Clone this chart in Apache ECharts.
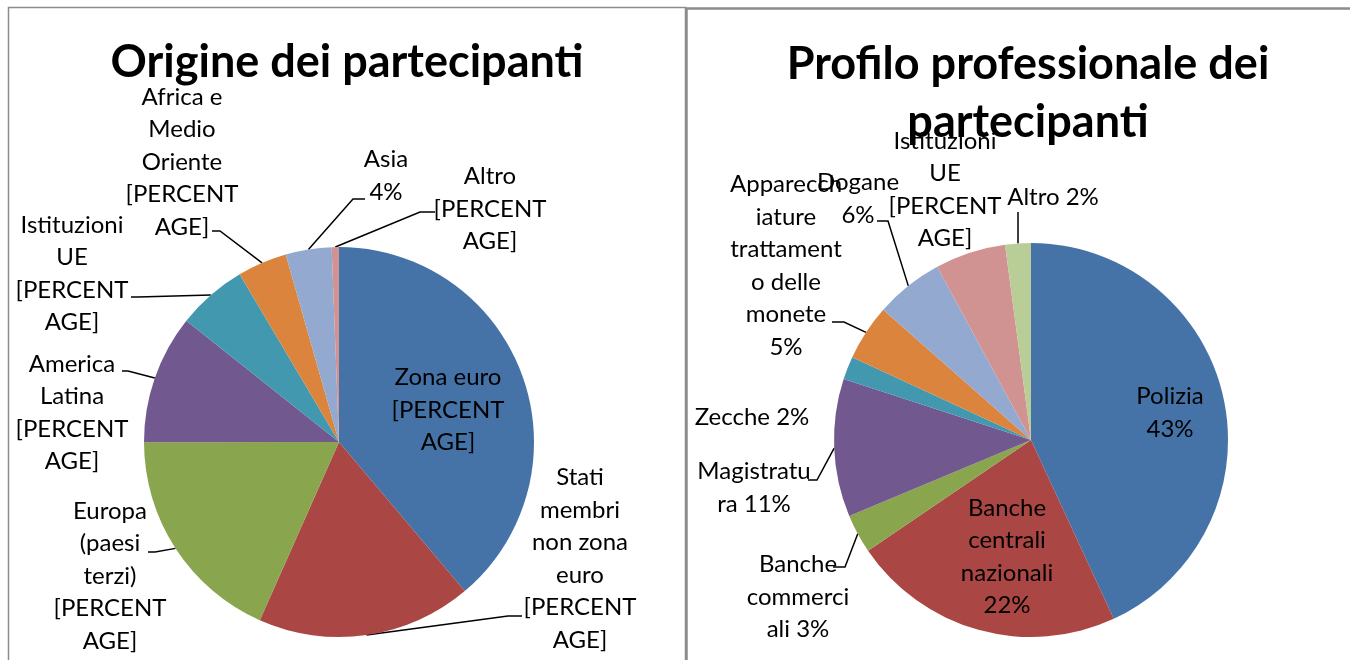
<!DOCTYPE html>
<html>
<head>
<meta charset="utf-8">
<script src="https://cdn.jsdelivr.net/npm/echarts@6/dist/echarts.min.js"></script>
<style>
  html, body { margin: 0; padding: 0; background: #fff; }
  #chart { width: 1350px; height: 660px; }
</style>
</head>
<body>
<div id="chart"></div>
<script>
// Origine dei partecipanti
var leftNames = ['Zona euro', 'Stati membri non zona euro', 'Europa (paesi terzi)', 'America Latina',
    'Istituzioni UE', 'Africa e Medio Oriente', 'Asia', 'Altro'];
var leftValues = [38.8, 17.8, 18.3, 10.7, 5.8, 4.1, 3.8, 0.6];
var leftLabels = ['Zona euro\n[PERCENT\nAGE]', 'Stati\nmembri\nnon zona\neuro\n[PERCENT\nAGE]',
    'Europa\n(paesi\nterzi)\n[PERCENT\nAGE]', 'America\nLatina\n[PERCENT\nAGE]',
    'Istituzioni\nUE\n[PERCENT\nAGE]', 'Africa e\nMedio\nOriente\n[PERCENT\nAGE]',
    'Asia\n{d}%', 'Altro\n[PERCENT\nAGE]'];

// Profilo professionale dei partecipanti
var rightNames = ['Polizia', 'Banche centrali nazionali', 'Banche commerciali', 'Magistratura', 'Zecche',
    'Apparecchiature trattamento delle monete', 'Dogane', 'Istituzioni UE', 'Altro'];
var rightValues = [43.1, 22.4, 3.2, 11.3, 1.9, 4.6, 5.6, 5.8, 2.1];
var rightLabels = ['Polizia\n{d}%', 'Banche\ncentrali\nnazionali\n{d}%', 'Banche\ncommerci\nali {d}%',
    'Magistratu\nra {d}%', 'Zecche {d}%', 'Apparecch\niature\ntrattament\no delle\nmonete\n{d}%',
    'Dogane\n{d}%', 'Istituzioni\nUE\n[PERCENT\nAGE]', 'Altro {d}%'];

var colors = ['#4673A7', '#AA4644', '#89A54E', '#71588F', '#4198AF', '#DB843D', '#93A9CF', '#D19392', '#B9CD96'];

// label placement (centre of the text block) and leader: [attachX, attachY, elbowX, elbowY]
var leftLabelPos = [[448, 410], [580, 559], [110, 576], [72, 413], [72, 274], [182, 162], [386, 176], [490, 209]];
var leftLeaders = [null, [522, 616, 508, 616], [148, 552, 155, 552], [122, 371, 128, 371],
    [131, 297, 138, 297], [212, 231, 220, 231], [365, 199, 353, 199], [435, 212, 420, 212]];
var rightLabelPos = [[1170, 413], [1007, 557], [798, 597], [754, 488], [752, 417], [786, 266],
    [858, 199], [945, 190], [1053, 197]];
var rightLeaders = [null, null, [833, 567, 845, 567], [808, 480, 817, 480], null, [832, 322, 844, 322],
    [877, 221, 888, 221], null, [1018, 212, 1018, 213]];

var font = 'Lato';

function buildData(names, values, labels, leaders) {
    return names.map(function (n, i) {
        return {
            name: n,
            value: values[i],
            itemStyle: { color: colors[i] },
            label: { formatter: labels[i] },
            labelLine: { show: !!leaders[i] }
        };
    });
}

function makeLayout(pos, leaders) {
    return function (p) {
        var i = p.dataIndex;
        var out = { x: pos[i][0], y: pos[i][1], align: 'center', verticalAlign: 'middle' };
        var l = leaders[i];
        if (l && p.labelLinePoints) {
            out.labelLinePoints = [p.labelLinePoints[0], [l[2], l[3]], [l[0], l[1]]];
        }
        return out;
    };
}

var myChart = echarts.init(document.getElementById('chart'), null, { renderer: 'canvas' });

var pieBase = {
    type: 'pie',
    startAngle: 90,
    clockwise: true,
    avoidLabelOverlap: false,
    percentPrecision: 0,
    label: {
        show: true,
        position: 'outside',
        color: '#000',
        fontFamily: font,
        fontSize: 24,
        lineHeight: 32.5,
        align: 'center'
    },
    labelLine: {
        show: true,
        length: 10,
        length2: 10,
        lineStyle: { color: '#000', width: 1.5 }
    },
    itemStyle: { borderWidth: 0 },
    emphasis: { disabled: true }
};

var option = {
    animation: false,
    graphic: [
        {
            type: 'rect',
            shape: { x: 8.5, y: 7.5, width: 677, height: 700 },
            style: { fill: 'none', stroke: '#8c8c8c', lineWidth: 1.5 },
            z: 0
        },
        {
            type: 'rect',
            shape: { x: 686.5, y: 8.5, width: 700, height: 700 },
            style: { fill: 'none', stroke: '#8c8c8c', lineWidth: 2.5 },
            z: 0
        }
    ],
    title: [
        {
            text: 'Origine dei partecipanti',
            left: 342,
            top: 28,
            textAlign: 'center',
            textStyle: { fontFamily: font, fontWeight: 'bold', fontSize: 45, lineHeight: 58, color: '#000' }
        },
        {
            text: 'Profilo professionale dei\npartecipanti',
            left: 1023,
            top: 30,
            textAlign: 'center',
            textStyle: { fontFamily: font, fontWeight: 'bold', fontSize: 45, lineHeight: 58, color: '#000' }
        }
    ],
    series: [
        Object.assign({}, pieBase, {
            name: 'Origine dei partecipanti',
            center: [339, 442],
            radius: [0, 195],
            labelLayout: makeLayout(leftLabelPos, leftLeaders),
            data: buildData(leftNames, leftValues, leftLabels, leftLeaders)
        }),
        Object.assign({}, pieBase, {
            name: 'Profilo professionale dei partecipanti',
            center: [1031, 440],
            radius: [0, 197],
            labelLayout: makeLayout(rightLabelPos, rightLeaders),
            data: buildData(rightNames, rightValues, rightLabels, rightLeaders)
        })
    ]
};

myChart.setOption(option);
window.addEventListener('resize', function () {
    myChart.resize();
});
</script>
</body>
</html>
